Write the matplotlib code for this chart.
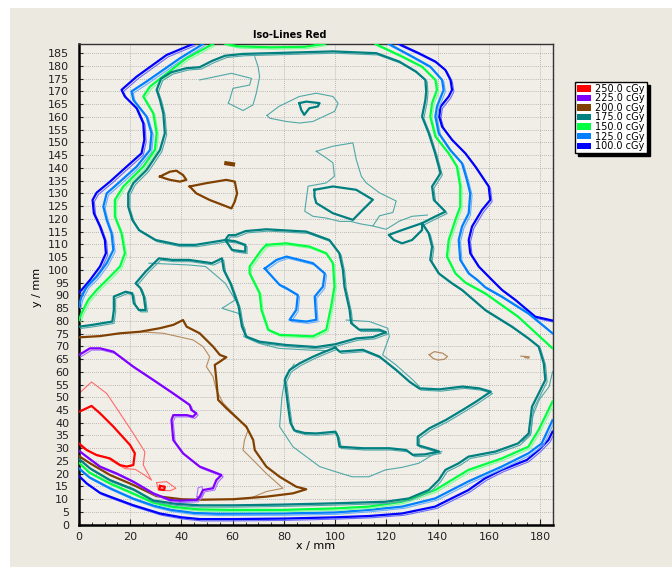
import matplotlib
matplotlib.use('Agg')
import matplotlib.pyplot as plt
import matplotlib.patheffects as pe
from matplotlib.patches import Patch, Rectangle

# dose levels shown in the legend
level_labels = ['250.0 cGy', '225.0 cGy', '200.0 cGy', '175.0 cGy',
                '150.0 cGy', '125.0 cGy', '100.0 cGy']
level_colors = ['#FF0000', '#8000FF', '#804000', '#008080',
                '#00FF40', '#0080FF', '#0000FF']
thin_colors = ['#FF6A6A', '#A873FF', '#B58A60', '#4FA8A8',
               '#7CFF98', '#6AAEFF', '#6A6AFF']

# 100 cGy
blue_left = [(44.5, 188.6), (34.2, 184.3), (22.5, 175.8), (16.6, 170.6), (17.9, 168),
             (22.5, 163.4), (25.1, 157.5), (25.5, 151), (24.4, 145.7), (18.6, 140.5),
             (12.1, 134.6), (6.9, 130.3), (5.3, 127.4), (5.8, 122.2), (8.2, 117),
             (10.1, 111.7), (10.5, 106.5), (8.2, 101.3), (4.3, 96), (1, 92.1), (0, 91)]
blue_bottom = [(0, 19.1), (3, 16.2), (8.2, 12.5), (12.1, 11), (21, 7.7), (31.6, 4.4),
               (40, 2.9), (47.1, 2.2), (60.1, 2.2), (79.6, 2.4), (100.1, 2.9), (113.1, 3.4),
               (126.1, 4.4), (139, 7.1), (152, 13.6), (158.5, 18.2), (165, 21.5),
               (174.8, 25.4), (179.4, 29.3), (183.2, 33.2), (184.8, 36.5)]
blue_right = [(124.8, 188.6), (132.6, 185), (139.1, 181.7), (143, 178.4), (145, 174.5),
              (145.6, 170.6), (144.3, 168), (141.1, 164), (140.6, 160.1), (141.7, 156.2),
              (145.6, 151), (150.8, 145.7), (154.7, 140.5), (157.3, 136.6), (159.9, 132.7),
              (160.5, 127.4), (157.3, 123.5), (153.4, 117), (152.1, 111.7), (152.7, 106.5),
              (156, 101.3), (161.2, 96), (165.1, 92.1), (170.3, 88.2), (178.1, 81.6),
              (184.8, 80.1)]

# 125 cGy
lblue_left = [(48.4, 188.6), (39.4, 183), (26.4, 173.9), (20.5, 170), (21.2, 166.7),
              (26.4, 160.1), (28.3, 153.6), (27.7, 147), (22.5, 140.5), (16, 134.6),
              (10.8, 130), (9.5, 124.8), (10.8, 119.6), (12.7, 114.3), (13.4, 107.8),
              (10.8, 102.6), (6.9, 97.3), (3, 93.4), (0.8, 89), (0, 85.5)]
lblue_bottom = [(0, 22.1), (4, 18.6), (12.1, 14.3), (21, 10.3), (29, 7.5), (36, 5.8),
                (45, 4.6), (53.6, 4.3), (79.6, 4.4), (100.1, 4.8), (113.1, 5.8), (126.1, 7.1),
                (139, 10.3), (152, 17), (165, 22.8), (175.4, 28), (180.6, 31.9), (184.8, 41)]
lblue_right = [(120.9, 188.6), (130, 183.7), (137.1, 179.7), (141.7, 174.5), (142.3, 170.6),
               (139.7, 164), (139.1, 160.1), (140.4, 153.6), (144.9, 147), (149.5, 141.8),
               (151.4, 135.3), (152.7, 130), (152.1, 122.2), (149.5, 117), (148.2, 111.7),
               (148.8, 103.9), (152.1, 98.6), (155.5, 96), (158.5, 93.2), (165, 89.5),
               (175.4, 82.9), (184.8, 75.1)]
lblue_island = [(72.5, 100.5), (77.1, 103.9), (81, 105.2), (91.3, 102.6), (95.9, 98.6),
                (95.2, 93.4), (92, 89.5), (92.6, 80.4), (88.7, 79.7), (82.2, 80.4),
                (84.8, 84.3), (85.4, 90.1), (80.9, 92.8), (78.3, 94.1), (72.5, 100.5)]

# 150 cGy
green_left = [(52.3, 188.6), (41.9, 183), (27.7, 171.9), (25.1, 168), (29, 161.4),
              (30.3, 153.6), (29.6, 147), (25.1, 140.5), (17.3, 132.7), (14, 127.4),
              (14, 120.9), (16.6, 114.3), (17.9, 106.5), (16, 101.3), (10.8, 96),
              (6.9, 92.1), (3.6, 88.2), (1, 83), (0, 80.3)]
green_bottom = [(0, 24.3), (4, 20.5), (12.1, 16.2), (21, 12.3), (29, 8.7), (36.8, 7),
                (47.1, 6), (60.1, 5.8), (79.6, 5.8), (100.1, 6.4), (113.1, 7.1), (126.1, 9),
                (139, 13.6), (152, 21.5), (165, 26), (175.4, 30.6), (179.4, 37.2),
                (183.2, 45), (184.8, 48.3)]
green_right = [(115.7, 188.6), (126.1, 183.7), (133.9, 179.7), (139.1, 174.5), (139.7, 170.6),
               (137.8, 165.4), (137.1, 160.1), (139.1, 152.3), (144.3, 145.7), (147.5, 140.5),
               (148.8, 132.7), (148.8, 124.8), (146.9, 119.6), (144.3, 111.7), (143.6, 105.2),
               (146.9, 98.6), (150.8, 95), (158.5, 90.8), (171.4, 81.6), (184.8, 69.2)]
green_top = [(57, 188.7), (62, 187.7), (75, 187.3), (88, 187.5), (96, 188.7)]
green_island = [(73.1, 109.8), (80.9, 110.4), (90, 109.1), (96.5, 106.5), (99.1, 102.6),
                (99.7, 93.4), (98.4, 85.6), (96.5, 76.5), (91.3, 73.9), (78.3, 74.5),
                (73.8, 76.5), (71.2, 84.3), (70.5, 90.8), (66.6, 98.6), (66.6, 101.3),
                (71.2, 107.8), (73.1, 109.8)]

# 175 cGy
teal_outer = [(0, 77.7), (5.2, 78.4), (13, 79.7), (13.6, 84.2), (13.6, 89.5), (18.2, 91.4),
              (20.8, 90.8), (21.4, 86.9), (23.4, 84.2), (26, 84.2), (25.3, 89.5), (24, 92.8),
              (22.1, 94.7), (26, 99.3), (31.2, 104.5), (36.4, 103.9), (42.9, 103.9),
              (51.9, 102.6), (55.8, 104.5), (56.5, 99.9), (59.1, 94.7), (62.3, 85.6),
              (63.6, 77.7), (65.3, 73.8), (70.5, 71.8), (80.9, 70.5), (92.6, 69.7),
              (100, 70.8), (108.2, 73.1), (114.7, 73.6), (119.8, 75.5), (117.2, 76.5),
              (109.4, 76.5), (106.2, 79.1), (105.6, 84.3), (103.6, 93.4), (103, 100),
              (101.6, 106.5), (97.7, 111.7), (88.7, 115), (73.1, 115.9), (65, 115.2),
              (61, 113.6), (58.4, 113.6), (57.1, 111.7), (58.4, 109.8), (59.7, 107.8),
              (64.9, 107.1), (64.9, 109.8), (61, 111.2), (57.1, 111.7), (45.5, 109.8),
              (39, 109.8), (29.9, 111.7), (23.4, 115.6), (20.8, 119.6), (19.2, 124.8),
              (19.2, 130), (21.2, 134), (26.4, 139.2), (31.6, 147), (33.5, 153.6),
              (32.9, 161.4), (31.6, 166.7), (30.3, 170.6), (32, 175), (36, 177.5),
              (41.9, 179.1), (47.1, 179.5), (52, 182), (57, 184), (64, 184.7), (99.1, 185.7),
              (116, 185), (125, 181.7), (131.5, 177.8), (135.2, 174.5), (135.5, 170),
              (135.2, 166.7), (133.9, 160.1), (136.5, 153.6), (139, 145.7), (141.1, 137.9),
              (137.8, 132.7), (138.5, 127.4), (143, 122.8), (139, 120.9), (133.9, 118.3),
              (136.5, 114.3), (137.8, 109.1), (137.1, 103.9), (140.4, 98.6), (145.6, 94.7),
              (149.5, 92.1), (158.6, 84.2), (169, 77.7), (175.4, 73.1), (179.4, 69.9),
              (181.4, 63.3), (182, 56.8), (179.4, 51.5), (176.8, 46.3), (175.5, 35.8),
              (171.4, 31.9), (162.5, 28.7), (152, 26.7), (148.2, 24.1), (143, 21.5),
              (140.4, 17.5), (136.5, 13.6), (128.7, 10.3), (119.6, 9), (100.1, 8.4),
              (79.6, 7.9), (60.1, 7.6), (47.1, 7.6), (38, 8.2), (29, 9.5), (21.2, 13.9),
              (12.1, 17.5), (4.3, 22.1), (0, 25.8)]
teal_lower = [(100, 69.5), (95, 67.5), (91.3, 65.9), (86.1, 63.3), (82.2, 60.7), (80.3, 56.8),
              (80.9, 52), (81.6, 46.4), (82.5, 40), (84, 37), (88, 36), (92.6, 35.8),
              (100.1, 36.5), (101, 34.5), (101.7, 30.6), (110.8, 30), (121.1, 30),
              (127.7, 29.3), (130.3, 27.4), (135, 27.6), (140.6, 28.7), (136.7, 29.9),
              (132.2, 31.2), (132.2, 34.5), (136.7, 37.8), (143.2, 41.1), (149.7, 45),
              (155, 48.3), (160.7, 52.2), (156.2, 53.5), (149.7, 54.2), (140.6, 53.1),
              (132.8, 53.5), (129, 56.1), (123.8, 60.7), (117.2, 66), (110.8, 68.6),
              (101.7, 67.9), (100, 69.5)]
teal_quad = [(133.9, 118.3), (126.1, 115.6), (120.9, 113.7), (122.9, 111.7), (126.1, 110.4),
             (130, 111.7), (133.9, 115.6), (133.9, 118.3)]
teal_loop_a = [(86, 165.4), (88.7, 166), (93.9, 165.4), (93.2, 164.1), (89.9, 163.4),
               (87.9, 160.8), (86.7, 162.8), (86, 165.4)]
teal_loop_b = [(91.9, 131.4), (99.1, 132.7), (108.2, 131.4), (114.7, 127.5), (110.8, 123.6),
               (106.9, 119.6), (99.1, 122.2), (92.6, 126.2), (91.9, 128.8), (91.9, 131.4)]
teal_thin_a = [(73.4, 160.6), (78, 164.1), (86, 168), (92.6, 169.3), (99.1, 168),
               (101.1, 165.4), (99.8, 162.2), (91.3, 158.2), (86, 157.6), (80.9, 158.2),
               (74.4, 159.5), (73.4, 160.6)]
teal_thin_b = [(47.1, 174.5), (59.5, 177.1), (67.3, 175.1), (66.6, 172.5), (60.1, 171.2),
               (58.8, 166.7), (58.2, 165.4), (64, 162.5), (67.9, 164.7), (69.2, 169.3),
               (70.5, 175.8), (69.9, 179.7), (68.6, 183.6)]
teal_thin_c = [(92.6, 146.5), (99.1, 148.5), (106.9, 149.8), (108.2, 143.3), (110.2, 136.7),
               (112.1, 134.1), (117.3, 130.2), (123.8, 127), (122.5, 122.5), (117.3, 121.2),
               (114.7, 117.2), (110, 118), (106, 119), (101.7, 119), (96.5, 120.3), (91.3, 121),
               (88.1, 123), (88.7, 127.5), (89.4, 132.8), (96.5, 134.1), (99.7, 136.7),
               (99.1, 142), (96.5, 143.9), (92.6, 146.5)]
teal_thin_c2 = [(114.7, 117.2), (119.9, 115.9), (125, 119.1), (130, 121), (136, 121.5)]
teal_thin_d = [(84, 63), (80.5, 58), (79.2, 50), (78.3, 38.5), (83.5, 30.6), (93.9, 22.8),
               (100.1, 20.8), (106.6, 18.8), (113.1, 18.8), (119.6, 21.5), (126.1, 22.5),
               (132.6, 24.1), (139, 28), (141.6, 28.7)]
teal_thin_e = [(27.3, 102.6), (42.9, 101.9), (49.4, 101.3), (57.1, 94.7), (61, 88.2),
               (55.8, 84.9), (62.3, 82.9), (64.9, 76.4), (64.3, 73.8), (70.1, 71.2),
               (77.9, 69.2), (90, 68.5), (97, 68.3)]
teal_thin_g = [(104.3, 80.3), (113.4, 79.7), (120.5, 77.1), (121.1, 73.8), (118.5, 66.6),
               (123.7, 62.7), (130.3, 56.8), (132.8, 54.2)]
teal_thin_h = [(184.8, 60), (183.5, 54.2), (179.6, 49), (177, 42.4), (176.4, 35.8),
               (173.1, 32.6)]

# 200 cGy
brown_main = [(0, 73.5), (8.2, 74), (16, 75.1), (23.8, 75.7), (31.6, 77.1), (36.8, 78.4),
              (40.6, 80.3), (42, 77.7), (47.1, 75.1), (52.3, 69.9), (55, 66.6), (57.5, 65.7),
              (55, 64), (53, 62.7), (53.6, 56.8), (54.3, 49), (57.5, 45.7), (65.3, 38.5),
              (68, 33.2), (68.6, 29.3), (73.1, 22.8), (78.3, 18.8), (84.8, 14.9),
              (88.7, 13.9), (83.5, 12.3), (73.1, 11), (60.1, 10), (47.1, 9.8), (40, 10),
              (30.3, 11.2), (21.2, 15.6), (12.1, 19.5), (4.3, 24.1), (0, 26.9)]
brown_thin = [(23.8, 75.7), (32.9, 75.1), (44.5, 72.5), (48.4, 69.9), (51, 65.9), (49.7, 62),
              (52.3, 58.1), (53.6, 52.9), (56.2, 47.8), (62.7, 41.1), (66, 37.2), (64.6, 33.2),
              (64, 29.3), (67.9, 25.4), (73.1, 20.1), (79.6, 14.3), (73.1, 13), (66.6, 10.3),
              (60.1, 9.8)]
brown_loop1 = [(31.6, 136.6), (35.5, 138.5), (38, 138.9), (40.6, 137.2), (41.9, 135.3),
               (39.4, 134.6), (35.5, 135.3), (33.5, 135.9), (31.6, 136.6)]
brown_loop2 = [(43.2, 132.7), (49.7, 134), (57.5, 135.3), (60.8, 134.6), (61.7, 130),
               (60.8, 126.8), (59.5, 124.1), (56.2, 125.4), (51, 127.4), (45.8, 130),
               (43.2, 132.7)]
brown_dash = [(57.5, 141.8), (60.1, 141.4)]
brown_loop3 = [(136.7, 66.7), (138.7, 67.9), (141.9, 67.3), (143.8, 66), (142.6, 64.9),
               (140, 64.6), (138.1, 65.3), (136.7, 66.7)]
brown_dash2 = [(172.5, 66.1), (175.7, 65.9), (175.5, 65.3), (174, 65.6)]

# 225 cGy
purple_main = [(0, 66.6), (4.3, 69.2), (8.2, 69.2), (13.4, 67.9), (21.2, 62), (29, 56.8),
               (36.8, 51.5), (43.2, 47), (43.9, 45), (45.8, 43.7), (44.5, 42.4), (42, 43),
               (36.8, 43), (36.1, 41.1), (36.8, 33.2), (40.6, 28), (47.1, 22.8), (52.3, 20.8),
               (55.6, 19.5), (53.6, 17.5), (52.3, 14.3), (48.4, 13.6), (47.1, 11),
               (45.8, 9.7), (39.4, 9.4), (35.5, 9.7), (29, 12.3), (21.2, 16.9), (14.7, 20.1),
               (8.2, 22.8), (3, 26.7), (0, 29)]
purple_small = [(46, 11), (46.5, 14.5), (48, 15), (48.5, 12.5), (47.5, 10.5), (46, 11)]

# 250 cGy
red_main = [(0, 44.3), (4.9, 46.6), (8.2, 43.7), (13.4, 38.5), (19.9, 31.3), (21.8, 28),
            (21.2, 23.4), (18.6, 22.8), (16, 23.4), (12.1, 26), (6.9, 27.3), (3, 29.3),
            (0, 31.9)]
red_thin = [(0, 51.5), (4.9, 56), (10.8, 51.5), (16, 43.7), (21.2, 35.8), (25.7, 28.6),
            (25.1, 23.4), (28.3, 17.5), (25.5, 19.5), (22, 21.7), (18, 22), (14.5, 24),
            (10.5, 26.5), (6, 27.8), (2.5, 29.5), (0, 30.8)]
red_small = [(31.6, 15.2), (33.5, 14.9), (33.2, 13.6), (31.3, 13.9), (31.6, 15.2)]
red_small_thin = [(30.3, 16.5), (34.2, 16.9), (37.8, 14.3), (35.5, 13.3), (31, 13.6),
                  (30.3, 16.5)]


def draw(ax, pts, color, lw=1.6, twin=None, z=3):
    xs = [p[0] for p in pts]
    ys = [p[1] for p in pts]
    effects = None
    if twin is not None:
        effects = [pe.SimpleLineShadow(offset=(1.3, -1.3), shadow_color=twin, alpha=1,
                                       linewidth=0.8),
                   pe.Normal()]
    ax.plot(xs, ys, color=color, lw=lw, path_effects=effects, zorder=z,
            solid_joinstyle='round')


fig = plt.figure(figsize=(6.72, 5.67), dpi=100, facecolor='white')
fig.add_artist(Rectangle((10 / 672, 0), 1, (567 - 8) / 567, transform=fig.transFigure,
                         facecolor='#ECE9E1', edgecolor='none', zorder=-10))
ax = fig.add_axes([79 / 672, (567 - 524.7) / 567, 474 / 672, 480.7 / 567])
ax.set_facecolor('#F1EEE7')

# thin companion lines
for pts in [teal_thin_a, teal_thin_b, teal_thin_c, teal_thin_c2, teal_thin_d,
            teal_thin_e, teal_thin_g, teal_thin_h]:
    draw(ax, pts, thin_colors[3], lw=0.8, z=2)
draw(ax, brown_thin, thin_colors[2], lw=0.8, z=2)
draw(ax, brown_loop3, thin_colors[2], lw=0.9, z=2)
draw(ax, brown_dash2, thin_colors[2], lw=0.9, z=2)
draw(ax, red_thin, thin_colors[0], lw=0.8, z=2)
draw(ax, red_small_thin, thin_colors[0], lw=0.8, z=2)
draw(ax, purple_small, thin_colors[1], lw=0.8, z=2)

# main iso-lines
for pts in [blue_left, blue_bottom, blue_right]:
    draw(ax, pts, level_colors[6], twin=thin_colors[6])
for pts in [lblue_left, lblue_bottom, lblue_right, lblue_island]:
    draw(ax, pts, level_colors[5], twin=thin_colors[5])
for pts in [green_left, green_bottom, green_right, green_island, green_top]:
    draw(ax, pts, level_colors[4], twin=thin_colors[4])
for pts in [teal_outer, teal_lower]:
    draw(ax, pts, level_colors[3], twin=thin_colors[3])
for pts in [teal_quad, teal_loop_a, teal_loop_b]:
    draw(ax, pts, level_colors[3])
draw(ax, brown_main, level_colors[2])
for pts in [brown_loop1, brown_loop2]:
    draw(ax, pts, level_colors[2])
draw(ax, brown_dash, level_colors[2], lw=3)
draw(ax, purple_main, level_colors[1], twin=thin_colors[1])
draw(ax, red_main, level_colors[0])
draw(ax, red_small, level_colors[0])

ax.set_xlim(0, 185)
ax.set_ylim(0, 188.6)
ax.set_xticks(range(0, 181, 20))
ax.set_xticks(range(0, 186, 5), minor=True)
ax.set_yticks(range(0, 186, 5))
ax.tick_params(axis='both', which='both', direction='in', labelsize=8, colors='#222222')
ax.tick_params(axis='y', length=3, pad=7)
ax.tick_params(axis='x', which='major', length=4, pad=5)
ax.tick_params(axis='x', which='minor', length=2)
ax.grid(True, which='major', color='#A8A8A8', lw=0.6, linestyle=(0, (1, 1.5)))
for side in ['left', 'bottom']:
    ax.spines[side].set_linewidth(1.8)
    ax.spines[side].set_color('black')
for side in ['top', 'right']:
    ax.spines[side].set_linewidth(1.0)
    ax.spines[side].set_color('#333333')

fig.text(290 / 672, 1 - 35 / 567, 'Iso-Lines Red', fontsize=7, fontweight='bold',
         ha='center', va='center')
fig.text(316 / 672, 1 - 546 / 567, 'x / mm', fontsize=8, ha='center', va='center')
fig.text(37 / 672, 1 - 287 / 567, 'y / mm', fontsize=8, ha='center', va='center',
         rotation=90)

handles = [Patch(facecolor=c, edgecolor='none', label=l)
           for c, l in zip(level_colors, level_labels)]
leg = ax.legend(handles=handles, loc='upper left',
                bbox_to_anchor=(575 / 672, 1 - 82 / 567), bbox_transform=fig.transFigure,
                fontsize=7, frameon=True, fancybox=False,
                shadow={'color': 'black', 'alpha': 1}, framealpha=1,
                edgecolor='black', borderpad=0.2, labelspacing=-0.05, handlelength=1.4,
                handleheight=0.6, handletextpad=0.5, borderaxespad=0)
leg.get_frame().set_linewidth(1.0)

fig.savefig('out.png', dpi=100, facecolor=fig.get_facecolor())
